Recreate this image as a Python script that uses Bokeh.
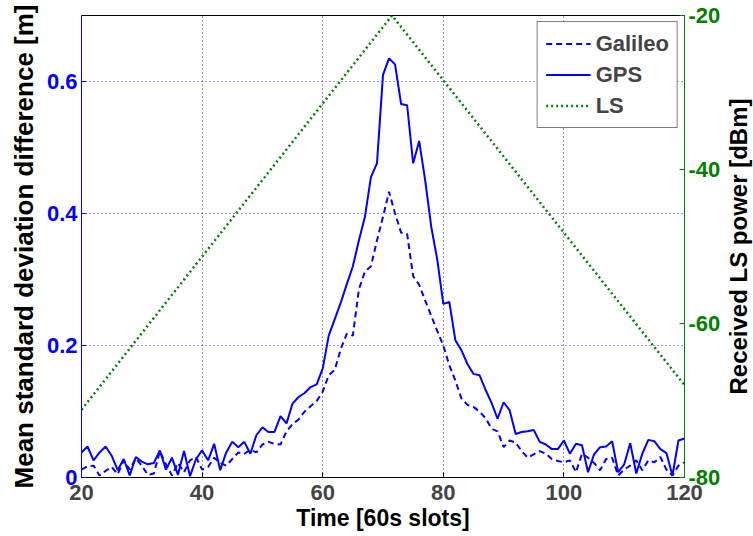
import math
from bokeh.plotting import figure
from bokeh.layouts import row
from bokeh.models import (LinearAxis, Range1d, FixedTicker, Legend, LegendItem,
                          CustomJSTickFormatter)
from bokeh.core.properties import value
from bokeh.embed import file_html
from bokeh.resources import INLINE

# ---- data ----
slots = list(range(20, 121))
gps = [0.038, 0.047, 0.026, 0.038, 0.047, 0.033, 0.011, 0.028, 0.003, 0.031,
       0.024, 0.020, 0.022, 0.041, 0.012, 0.030, 0.004, 0.040, 0.002, 0.028,
       0.041, 0.026, 0.051, 0.011, 0.038, 0.054, 0.046, 0.054, 0.036, 0.064,
       0.076, 0.069, 0.069, 0.093, 0.082, 0.112, 0.122, 0.128, 0.137, 0.141,
       0.165, 0.215, 0.240, 0.265, 0.293, 0.320, 0.359, 0.395, 0.455, 0.476,
       0.610, 0.635, 0.626, 0.566, 0.564, 0.476, 0.510, 0.450, 0.380, 0.330,
       0.263, 0.266, 0.208, 0.193, 0.172, 0.157, 0.155, 0.133, 0.113, 0.089,
       0.114, 0.102, 0.066, 0.069, 0.070, 0.072, 0.054, 0.050, 0.043, 0.043,
       0.056, 0.036, 0.051, 0.049, 0.008, 0.035, 0.046, 0.047, 0.055, 0.008,
       0.020, 0.052, 0.006, 0.036, 0.057, 0.055, 0.043, 0.037, 0.003, 0.056,
       0.059]
galileo = [0.012, 0.017, 0.018, 0.003, 0.010, 0.016, 0.005, 0.026, 0.012, 0.029,
           0.018, 0.004, 0.006, 0.040, 0.020, 0.003, 0.022, 0.008, 0.026, 0.031,
           0.012, 0.016, 0.030, 0.022, 0.018, 0.028, 0.038, 0.036, 0.042, 0.038,
           0.050, 0.054, 0.051, 0.050, 0.070, 0.081, 0.088, 0.100, 0.108, 0.116,
           0.130, 0.155, 0.163, 0.195, 0.218, 0.215, 0.285, 0.312, 0.320, 0.359,
           0.395, 0.433, 0.400, 0.371, 0.369, 0.305, 0.292, 0.268, 0.245, 0.222,
           0.200, 0.170, 0.147, 0.120, 0.110, 0.107, 0.100, 0.090, 0.074, 0.070,
           0.046, 0.056, 0.053, 0.040, 0.030, 0.035, 0.040, 0.036, 0.028, 0.025,
           0.023, 0.026, 0.008, 0.036, 0.030, 0.022, 0.011, 0.028, 0.030, 0.003,
           0.012, 0.018, 0.026, 0.011, 0.026, 0.023, 0.031, 0.012, 0.003, 0.018,
           0.023]
ls_slots = [20, 71.5, 120]
ls_power = [-71.2, -20, -68.0]

x_ticks = [20, 40, 60, 80, 100, 120]
left_ticks = [0, 0.2, 0.4, 0.6]
right_ticks = [-80, -60, -40, -20]

FONT = "Liberation Sans"
BLUE = "#0000ff"
GREEN = "#008000"

p = figure(width=726, height=536, output_backend="svg", toolbar_location=None,
           x_range=Range1d(20, 120), y_range=Range1d(0, 0.7),
           min_border_left=81, min_border_right=42, min_border_top=15, min_border_bottom=59)
p.background_fill_color = "white"
p.border_fill_color = "white"
p.outline_line_color = "black"
p.outline_line_width = 1

p.extra_y_ranges = {"ls": Range1d(-80, -20)}

xa = p.xaxis[0]
xa.ticker = FixedTicker(ticks=x_ticks)
xa.axis_label = "Time [60s slots]"
ya = p.yaxis[0]
ya.ticker = FixedTicker(ticks=left_ticks)
ya.axis_label = "Mean standard deviation difference [m]"
ya.major_label_text_color = BLUE
ya.axis_line_color = BLUE
ya.major_tick_line_color = BLUE

ra = LinearAxis(y_range_name="ls", ticker=FixedTicker(ticks=right_ticks),
                formatter=CustomJSTickFormatter(code="return String(tick)"))
ra.major_label_text_color = GREEN
ra.axis_line_color = GREEN
ra.major_tick_line_color = GREEN
p.add_layout(ra, "right")

for ax in (xa, ya, ra):
    ax.major_label_text_font = FONT
    ax.major_label_text_font_style = "bold"
    ax.major_label_text_font_size = "22px"
    ax.axis_label_text_font = FONT
    ax.axis_label_text_font_style = "bold"
    ax.axis_label_text_font_size = "23px"
    ax.axis_label_text_color = "black"
    ax.major_tick_in = 5
    ax.major_tick_out = 0
    ax.minor_tick_line_color = None
    ax.major_label_standoff = 4
    ax.axis_label_standoff = 3
xa.major_label_standoff = 7
xa.axis_label_standoff = 2
ya.axis_label_standoff = 5
ya.axis_label_text_font_size = "26px"

p.xgrid.ticker = FixedTicker(ticks=x_ticks)
p.xgrid.grid_line_color = "black"
p.xgrid.grid_line_alpha = 0.8
p.xgrid.grid_line_dash = "1 3"
p.ygrid.ticker = FixedTicker(ticks=left_ticks)
p.ygrid.grid_line_color = BLUE
p.ygrid.grid_line_alpha = 0.8
p.ygrid.grid_line_dash = "1 3"

r_gal = p.line(slots, galileo, line_color=BLUE, line_width=2, line_dash="6 4")
r_gps = p.line(slots, gps, line_color=BLUE, line_width=2)
r_ls = p.line(ls_slots, ls_power, y_range_name="ls", line_color=GREEN, line_width=2.5, line_dash="2 3")

legend = Legend(items=[LegendItem(label="Galileo", renderers=[r_gal]),
                       LegendItem(label="GPS", renderers=[r_gps]),
                       LegendItem(label="LS", renderers=[r_ls])],
                location="top_right")
legend.label_text_font = FONT
legend.label_text_font_style = "bold"
legend.label_text_font_size = "22px"
legend.glyph_width = 45
legend.label_height = 27
legend.glyph_height = 27
legend.spacing = 4
legend.padding = 8
legend.margin = 6
legend.border_line_color = "black"
legend.border_line_width = 1
legend.background_fill_alpha = 1
p.add_layout(legend)

# narrow strip holding the right-hand axis title (reads bottom-to-top)
side = figure(width=27, height=536, output_backend="svg", toolbar_location=None,
              x_range=Range1d(0, 1), y_range=Range1d(0, 1),
              min_border=0, min_border_left=0, min_border_right=0,
              min_border_top=0, min_border_bottom=0)
side.axis.visible = False
side.grid.visible = False
side.outline_line_color = None
side.background_fill_color = "white"
side.border_fill_color = "white"
side.text(x=[0.45], y=[0.5], text=["Received LS power [dBm]"], angle=math.pi / 2,
          text_align="center", text_baseline="middle",
          text_font=value(FONT), text_font_style="bold", text_font_size="24px",
          text_color="black")

layout = row(p, side, spacing=0)
open("out.html", "w").write(file_html(layout, INLINE))
